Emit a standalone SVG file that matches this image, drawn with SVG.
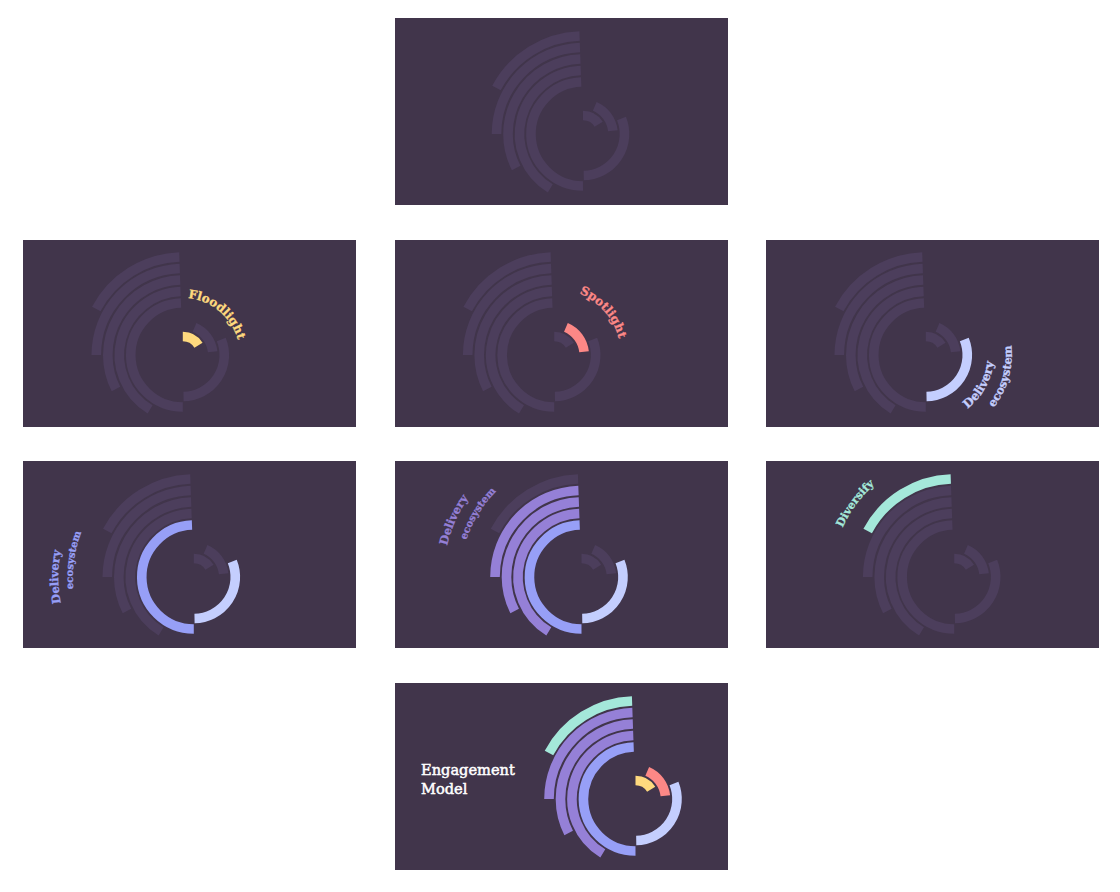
<svg xmlns="http://www.w3.org/2000/svg" xmlns:xlink="http://www.w3.org/1999/xlink" width="1120" height="892" viewBox="0 0 1120 892">
<style>
.bg{fill:#41354b}
.arc{fill:none;stroke-width:9.6;stroke-linecap:butt}
.dim{stroke:#4c3e5c}
.yel{stroke:#fed97e}
.cor{stroke:#fc8886}
.lbl{stroke:#c4cefe}
.blu{stroke:#979ff7}
.pur{stroke:#9580d7}
.mint{stroke:#a4e8da}
.lab{font-family:"DejaVu Serif","Liberation Serif",serif;font-weight:bold;text-anchor:middle;stroke-width:0.3}
.ty{fill:#fed97e;stroke:#fed97e}
.tc{fill:#fc8886;stroke:#fc8886}
.tl{fill:#c4cefe;stroke:#c4cefe}
.tb{fill:#979ff7;stroke:#979ff7}
.tp{fill:#9580d7;stroke:#9580d7}
.tm{fill:#a4e8da;stroke:#a4e8da}
.title{font-family:"DejaVu Serif","Liberation Serif",serif;font-size:14.6px;fill:#ffffff;stroke:#ffffff;stroke-width:0.5}
</style>
<defs>
<path id="a1" class="arc" d="M -86.53 -46.01 A 98 98 0 0 1 -3.42 -97.94"/>
<path id="a2" class="arc" d="M -86.5 0 A 86.5 86.5 0 0 1 -3.02 -86.45"/>
<path id="a3" class="arc" d="M -66.83 34.05 A 75 75 0 0 1 -2.62 -74.95"/>
<path id="a4" class="arc" d="M -32.70 54.43 A 63.5 63.5 0 0 1 -2.22 -63.46"/>
<path id="a5" class="arc" d="M 0 52 A 52 52 0 0 1 -1.81 -51.97"/>
<path id="s3" class="arc" d="M 38.48 -15.55 A 41.5 41.5 0 0 1 0.72 41.49"/>
<path id="s2" class="arc" d="M 11.72 -27.62 A 30 30 0 0 1 29.84 -3.14"/>
<path id="s1" class="arc" d="M 0 -18.5 A 18.5 18.5 0 0 1 15.69 -9.80"/>
<path id="tp-flood" fill="none" d="M -36.64 -43.66 A 57 57 0 0 1 49.36 28.5"/>
<path id="tp-spot" fill="none" d="M -34.25 -57.0 A 66.5 66.5 0 0 1 51.68 41.85"/>
<path id="tp-d23a" fill="none" d="M -22.14 64.30 A 68 68 0 0 0 42.79 -52.85"/>
<path id="tp-d23b" fill="none" d="M -8.56 85.57 A 86 86 0 0 0 37.29 -77.49"/>
<path id="tp-d31a" fill="none" d="M -23.53 133.45 A 135.5 135.5 0 0 1 -23.53 -133.45"/>
<path id="tp-d31b" fill="none" d="M -37.39 115.08 A 121 121 0 0 1 -4.22 -120.93"/>
<path id="tp-d32a" fill="none" d="M -77.17 114.41 A 138 138 0 0 1 33.39 -133.90"/>
<path id="tp-d32b" fill="none" d="M -80.18 90.62 A 121 121 0 0 1 44.35 -112.58"/>
<path id="tp-div" fill="none" d="M -88.50 83.98 A 122 122 0 0 1 54.44 -109.18"/>
</defs>

<rect width="1120" height="892" fill="#ffffff"/>

<g id="panel-base" transform="translate(395,18)">
<rect class="bg" width="333" height="187"/>
<g transform="translate(188,116)">
<use href="#a1" class="dim"/><use href="#a2" class="dim"/><use href="#a3" class="dim"/><use href="#a4" class="dim"/><use href="#a5" class="dim"/>
<use href="#s3" class="dim"/><use href="#s2" class="dim"/><use href="#s1" class="dim"/>
</g>
</g>

<g id="panel-floodlight" transform="translate(23,239)">
<rect class="bg" y="1" width="333" height="187"/>
<g transform="translate(159.8,116)">
<use href="#a1" class="dim"/><use href="#a2" class="dim"/><use href="#a3" class="dim"/><use href="#a4" class="dim"/><use href="#a5" class="dim"/>
<use href="#s3" class="dim"/><use href="#s2" class="dim"/><use href="#s1" class="yel"/>
<text class="lab ty" font-size="12"><textPath href="#tp-flood" xlink:href="#tp-flood" startOffset="50%">Floodlight</textPath></text>
</g>
</g>

<g id="panel-spotlight" transform="translate(395,239)">
<rect class="bg" y="1" width="333" height="187"/>
<g transform="translate(159.2,116)">
<use href="#a1" class="dim"/><use href="#a2" class="dim"/><use href="#a3" class="dim"/><use href="#a4" class="dim"/><use href="#a5" class="dim"/>
<use href="#s3" class="dim"/><use href="#s2" class="cor"/><use href="#s1" class="dim"/>
<text class="lab tc" font-size="12"><textPath href="#tp-spot" xlink:href="#tp-spot" startOffset="50%">Spotlight</textPath></text>
</g>
</g>

<g id="panel-delivery-1" transform="translate(766,239)">
<rect class="bg" y="1" width="333" height="187"/>
<g transform="translate(159.8,116)">
<use href="#a1" class="dim"/><use href="#a2" class="dim"/><use href="#a3" class="dim"/><use href="#a4" class="dim"/><use href="#a5" class="dim"/>
<use href="#s3" class="lbl"/><use href="#s2" class="dim"/><use href="#s1" class="dim"/>
<text class="lab tl" font-size="12"><textPath href="#tp-d23a" xlink:href="#tp-d23a" startOffset="50%">Delivery</textPath></text>
<text class="lab tl" font-size="11.5"><textPath href="#tp-d23b" xlink:href="#tp-d23b" startOffset="50%">ecosystem</textPath></text>
</g>
</g>

<g id="panel-delivery-2" transform="translate(23,461)">
<rect class="bg" width="333" height="187"/>
<g transform="translate(170.8,116)">
<use href="#a1" class="dim"/><use href="#a2" class="dim"/><use href="#a3" class="dim"/><use href="#a4" class="dim"/><use href="#a5" class="blu"/>
<use href="#s3" class="lbl"/><use href="#s2" class="dim"/><use href="#s1" class="dim"/>
<text class="lab tb" font-size="11.5"><textPath href="#tp-d31a" xlink:href="#tp-d31a" startOffset="50%">Delivery</textPath></text>
<text class="lab tb" font-size="10"><textPath href="#tp-d31b" xlink:href="#tp-d31b" startOffset="50%">ecosystem</textPath></text>
</g>
</g>

<g id="panel-delivery-3" transform="translate(395,461)">
<rect class="bg" width="333" height="187"/>
<g transform="translate(186.5,116)">
<use href="#a1" class="dim"/><use href="#a2" class="pur"/><use href="#a3" class="pur"/><use href="#a4" class="pur"/><use href="#a5" class="blu"/>
<use href="#s3" class="lbl"/><use href="#s2" class="dim"/><use href="#s1" class="dim"/>
<text class="lab tp" font-size="11.5"><textPath href="#tp-d32a" xlink:href="#tp-d32a" startOffset="50%">Delivery</textPath></text>
<text class="lab tp" font-size="10"><textPath href="#tp-d32b" xlink:href="#tp-d32b" startOffset="50%">ecosystem</textPath></text>
</g>
</g>

<g id="panel-diversify" transform="translate(766,461)">
<rect class="bg" width="333" height="187"/>
<g transform="translate(188.2,116)">
<use href="#a1" class="mint"/><use href="#a2" class="dim"/><use href="#a3" class="dim"/><use href="#a4" class="dim"/><use href="#a5" class="dim"/>
<use href="#s3" class="dim"/><use href="#s2" class="dim"/><use href="#s1" class="dim"/>
<text class="lab tm" font-size="11"><textPath href="#tp-div" xlink:href="#tp-div" startOffset="50%">Diversify</textPath></text>
</g>
</g>

<g id="panel-engagement" transform="translate(395,683)">
<rect class="bg" width="333" height="187"/>
<g transform="translate(240.5,116)">
<use href="#a1" class="mint"/><use href="#a2" class="pur"/><use href="#a3" class="pur"/><use href="#a4" class="pur"/><use href="#a5" class="blu"/>
<use href="#s3" class="lbl"/><use href="#s2" class="cor"/><use href="#s1" class="yel"/>
</g>
<text class="title" x="26" y="91.7">Engagement</text>
<text class="title" x="26" y="111.3">Model</text>
</g>
</svg>
